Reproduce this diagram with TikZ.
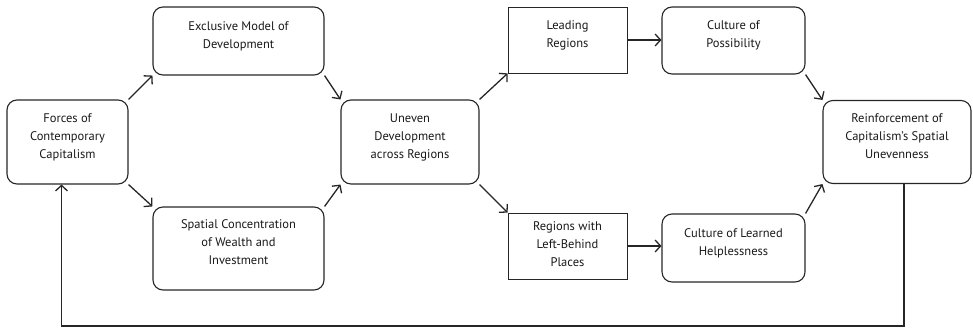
\documentclass[tikz,border=0pt]{standalone}
\usepackage{fontspec}
\setmainfont{PT Sans}
\usetikzlibrary{arrows.meta}

\begin{document}
\begin{tikzpicture}[x=1pt, y=-1pt,
    font=\fontsize{12.5}{18}\selectfont,
    rbox/.style={draw=black!85, rounded corners=10pt, line width=1.1pt, align=center,
        text=black!90, inner sep=2pt, text depth=12pt},
    sbox/.style={rbox, sharp corners, line width=0.8pt},
    link/.style={-{Straight Barb[length=5.5pt,width=12pt]}, line width=1.3pt, draw=black!85}]
    \useasboundingbox (0,0) rectangle (973,329);

    % Left part
    \node[rbox, minimum width=121pt, minimum height=84pt] (forces) at (67.5,142)
        {Forces of\\Contemporary\\Capitalism};
    \node[rbox, minimum width=171pt, minimum height=68pt] (excl) at (238.5,41)
        {Exclusive Model of\\Development};
    \node[rbox, minimum width=171pt, minimum height=83pt] (spat) at (238.5,248.5)
        {Spatial Concentration\\of Wealth and\\Investment};

    % Middle
    \node[rbox, minimum width=138pt, minimum height=84pt] (uneven) at (410,142)
        {Uneven\\Development\\across Regions};
    \node[sbox, minimum width=119pt, minimum height=66pt] (lead) at (567.5,40)
        {Leading\\Regions};
    \node[sbox, minimum width=119pt, minimum height=66pt, text depth=3pt] (behind) at (567.5,246)
        {Regions with\\Left-Behind\\Places};

    % Right part
    \node[rbox, minimum width=143pt, minimum height=67pt] (poss) at (733.5,40.5)
        {Culture of\\Possibility};
    \node[rbox, minimum width=143pt, minimum height=68pt] (helpless) at (733.5,248)
        {Culture of Learned\\Helplessness};
    \node[rbox, minimum width=148pt, minimum height=83pt] (reinf) at (897,142)
        {Reinforcement of\\Capitalism's Spatial\\Unevenness};

    % Arrows
    \draw[link] (forces.north east) -- (excl.south west);
    \draw[link] (forces.south east) -- (spat.north west);
    \draw[link] (excl.south east) -- (uneven.north west);
    \draw[link] (spat.north east) -- (uneven.south west);
    \draw[link] (uneven.north east) -- (lead.south west);
    \draw[link] (uneven.south east) -- (behind.north west);
    \draw[link] (lead.east) -- (lead.east -| poss.west);
    \draw[link] (behind.east) -- (behind.east -| helpless.west);
    \draw[link] (poss.south east) -- (reinf.north west);
    \draw[link] (helpless.north east) -- (reinf.south west);

    % Feedback loop
    \draw[link] ([xshift=7pt]reinf.south) -- ++(0,142) -| ([xshift=-6pt]forces.south);
\end{tikzpicture}
\end{document}
